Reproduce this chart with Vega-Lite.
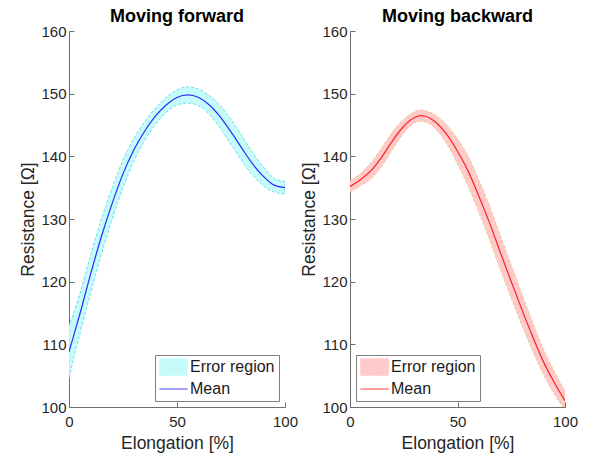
{
  "$schema": "https://vega.github.io/schema/vega-lite/v6.json",
  "padding": {"left": 19, "top": 8, "right": 5, "bottom": 5},
  "datasets": {
    "fwd": [
      {"x": 0, "m": 108.8, "lo": 104.6, "hi": 113.0},
      {"x": 2, "m": 111.2, "lo": 107.6, "hi": 114.8},
      {"x": 5, "m": 114.8, "lo": 111.6, "hi": 118.0},
      {"x": 10, "m": 121.2, "lo": 118.2, "hi": 124.2},
      {"x": 15, "m": 127.2, "lo": 124.4, "hi": 130.0},
      {"x": 20, "m": 132.5, "lo": 130.0, "hi": 135.0},
      {"x": 25, "m": 137.2, "lo": 135.0, "hi": 139.4},
      {"x": 30, "m": 141.0, "lo": 139.2, "hi": 142.8},
      {"x": 35, "m": 144.0, "lo": 142.5, "hi": 145.5},
      {"x": 40, "m": 146.4, "lo": 145.1, "hi": 147.7},
      {"x": 45, "m": 148.2, "lo": 147.0, "hi": 149.4},
      {"x": 50, "m": 149.4, "lo": 148.2, "hi": 150.6},
      {"x": 55, "m": 149.8, "lo": 148.5, "hi": 151.1},
      {"x": 60, "m": 149.4, "lo": 148.1, "hi": 150.7},
      {"x": 65, "m": 148.2, "lo": 146.7, "hi": 149.7},
      {"x": 70, "m": 146.3, "lo": 144.5, "hi": 148.1},
      {"x": 75, "m": 143.9, "lo": 141.9, "hi": 145.9},
      {"x": 80, "m": 141.3, "lo": 139.3, "hi": 143.3},
      {"x": 85, "m": 138.8, "lo": 137.0, "hi": 140.6},
      {"x": 90, "m": 136.8, "lo": 135.3, "hi": 138.3},
      {"x": 95, "m": 135.4, "lo": 134.3, "hi": 136.5},
      {"x": 100, "m": 135.0, "lo": 134.0, "hi": 136.0}
    ],
    "bwd": [
      {"x": 0, "m": 135.2, "lo": 134.3, "hi": 136.1},
      {"x": 5, "m": 136.3, "lo": 135.3, "hi": 137.3},
      {"x": 10, "m": 137.8, "lo": 136.5, "hi": 139.1},
      {"x": 15, "m": 140.0, "lo": 138.5, "hi": 141.5},
      {"x": 20, "m": 142.6, "lo": 141.2, "hi": 144.0},
      {"x": 25, "m": 144.8, "lo": 143.7, "hi": 145.9},
      {"x": 30, "m": 146.2, "lo": 145.3, "hi": 147.1},
      {"x": 33, "m": 146.5, "lo": 145.6, "hi": 147.4},
      {"x": 35, "m": 146.4, "lo": 145.5, "hi": 147.3},
      {"x": 40, "m": 145.4, "lo": 144.3, "hi": 146.5},
      {"x": 45, "m": 143.5, "lo": 142.0, "hi": 145.0},
      {"x": 50, "m": 140.8, "lo": 138.8, "hi": 142.8},
      {"x": 55, "m": 137.6, "lo": 135.2, "hi": 140.0},
      {"x": 60, "m": 133.6, "lo": 131.0, "hi": 136.2},
      {"x": 65, "m": 129.3, "lo": 126.6, "hi": 132.0},
      {"x": 70, "m": 124.6, "lo": 121.9, "hi": 127.3},
      {"x": 75, "m": 120.0, "lo": 117.4, "hi": 122.6},
      {"x": 80, "m": 115.5, "lo": 113.0, "hi": 118.0},
      {"x": 85, "m": 111.2, "lo": 108.9, "hi": 113.5},
      {"x": 90, "m": 107.2, "lo": 105.2, "hi": 109.2},
      {"x": 95, "m": 103.9, "lo": 102.1, "hi": 105.7},
      {"x": 100, "m": 101.0, "lo": 99.5, "hi": 102.5}
    ]
  },
  "hconcat": [
    {
      "title": "Moving forward",
      "width": 216,
      "height": 376,
      "data": {"name": "fwd"},
      "layer": [
        {
          "mark": {"type": "area", "interpolate": "monotone", "stroke": "#6fdcef", "strokeWidth": 1, "strokeDash": [3, 2], "clip": true},
          "encoding": {
            "x": {"field": "x", "type": "quantitative", "scale": {"domain": [0, 100]}, "axis": {"values": [0, 50, 100], "title": "Elongation [%]"}},
            "y": {"field": "lo", "type": "quantitative", "scale": {"domain": [100, 160]}, "axis": {"values": [100, 110, 120, 130, 140, 150, 160], "title": "Resistance [Ω]"}},
            "y2": {"field": "hi"},
            "color": {"datum": "Error region", "type": "nominal", "scale": {"domain": ["Error region", "Mean"], "range": ["#c6fbfb", "#2a2aff"]},
              "legend": {
                "title": null, "orient": "bottom-right", "offset": 6,
                "strokeColor": "#808080", "fillColor": "#ffffff", "padding": 4,
                "labelFontSize": 16, "labelColor": "#1a1a1a", "labelFont": "Liberation Sans",
                "symbolOffset": 6.5, "labelOffset": 8.5, "rowPadding": 3,
                "symbolSize": 196, "symbolStrokeWidth": 1, "symbolOpacity": 1,
                "symbolType": {"expr": "datum.value === 'Mean' ? 'M-2,0L2,0' : 'M-2,-1.2L2,-1.2L2,1.2L-2,1.2Z'"},
                "symbolDash": {"expr": "datum.value === 'Mean' ? [1, 0] : [3, 2]"}
              }}
          }
        },
        {
          "mark": {"type": "line", "interpolate": "monotone", "strokeWidth": 1.2, "clip": true},
          "encoding": {
            "x": {"field": "x", "type": "quantitative"},
            "y": {"field": "m", "type": "quantitative"},
            "color": {"datum": "Mean", "type": "nominal"}
          }
        }
      ]
    },
    {
      "title": "Moving backward",
      "width": 215,
      "height": 376,
      "data": {"name": "bwd"},
      "layer": [
        {
          "mark": {"type": "area", "interpolate": "monotone", "stroke": "#f2c890", "strokeWidth": 1, "strokeDash": [3, 2], "clip": true},
          "encoding": {
            "x": {"field": "x", "type": "quantitative", "scale": {"domain": [0, 100]}, "axis": {"values": [0, 50, 100], "title": "Elongation [%]"}},
            "y": {"field": "lo", "type": "quantitative", "scale": {"domain": [100, 160]}, "axis": {"values": [100, 110, 120, 130, 140, 150, 160], "title": "Resistance [Ω]"}},
            "y2": {"field": "hi"},
            "color": {"datum": "Error region ", "type": "nominal", "scale": {"domain": ["Error region ", "Mean "], "range": ["#ffcaca", "#ff2020"]},
              "legend": {
                "title": null, "orient": "bottom-left", "offset": 6,
                "strokeColor": "#808080", "fillColor": "#ffffff", "padding": 4,
                "labelFontSize": 16, "labelColor": "#1a1a1a", "labelFont": "Liberation Sans",
                "symbolOffset": 6.5, "labelOffset": 8.5, "rowPadding": 3,
                "symbolSize": 196, "symbolStrokeWidth": 1, "symbolOpacity": 1,
                "symbolType": {"expr": "datum.value === 'Mean ' ? 'M-2,0L2,0' : 'M-2,-1.2L2,-1.2L2,1.2L-2,1.2Z'"},
                "symbolDash": {"expr": "datum.value === 'Mean ' ? [1, 0] : [3, 2]"}
              }}
          }
        },
        {
          "mark": {"type": "line", "interpolate": "monotone", "strokeWidth": 1.2, "clip": true},
          "encoding": {
            "x": {"field": "x", "type": "quantitative"},
            "y": {"field": "m", "type": "quantitative"},
            "color": {"datum": "Mean ", "type": "nominal"}
          }
        }
      ]
    }
  ],
  "resolve": {"scale": {"color": "independent"}, "legend": {"color": "independent"}},
  "spacing": 2,
  "config": {
    "view": {"stroke": null},
    "font": "Liberation Sans",
    "axis": {
      "grid": false,
      "domainColor": "#6e6e6e",
      "tickColor": "#6e6e6e",
      "labelColor": "#262626",
      "titleColor": "#262626",
      "labelFontSize": 15,
      "titleFontSize": 17.5,
      "titleFontWeight": "normal",
      "tickSize": -5,
      "labelFlush": false
    },
    "axisX": {"labelPadding": 12, "titlePadding": 5},
    "axisY": {"labelPadding": 8, "titlePadding": 3},
    "title": {"fontSize": 18, "fontWeight": "bold", "color": "#000000", "offset": -2}
  }
}
